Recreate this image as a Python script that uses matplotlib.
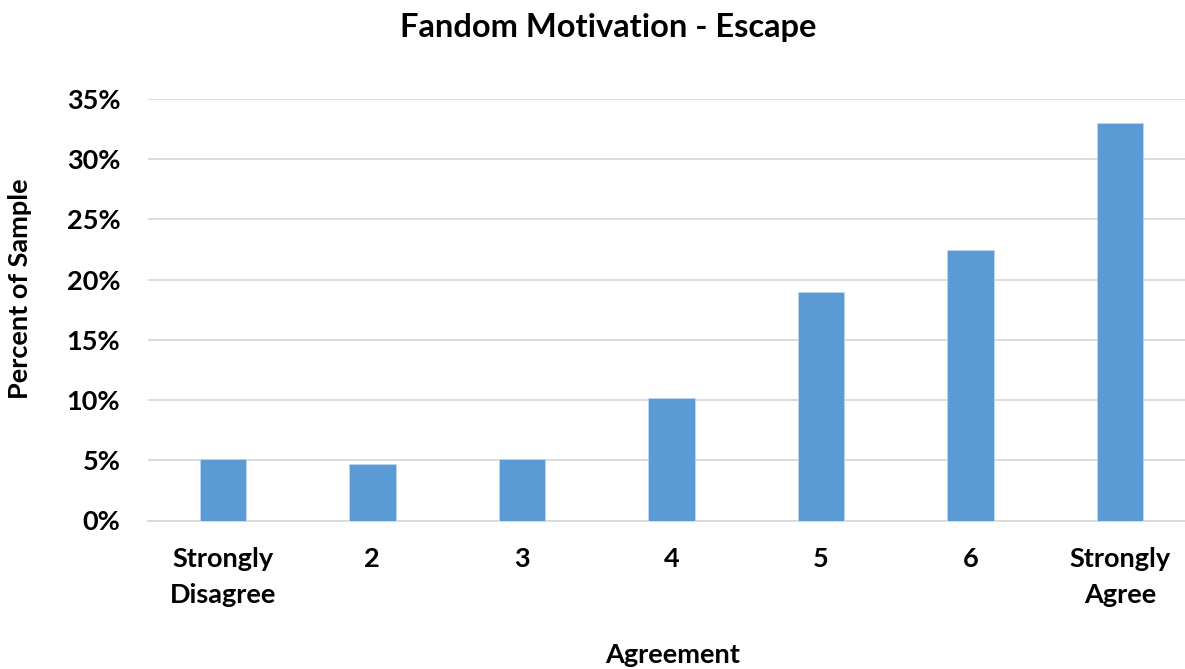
import matplotlib.pyplot as plt
from matplotlib.ticker import PercentFormatter

categories = ['Strongly\nDisagree', '2', '3', '4', '5', '6', 'Strongly\nAgree']
percent = [5.1, 4.7, 5.1, 10.2, 19.0, 22.5, 33.0]
y_ticks = [0, 5, 10, 15, 20, 25, 30, 35]

plt.rcParams['font.family'] = ['Lato', 'DejaVu Sans']
plt.rcParams['font.weight'] = 'bold'

fig = plt.figure(figsize=(11.85, 6.69), dpi=100)
ax = fig.add_axes([148 / 1185, 1 - 520.5 / 669, 1047 / 1185, 421.5 / 669])

x = list(range(len(categories)))
ax.bar(x, percent, width=0.31, color='#5B9BD5', edgecolor='#BDD7EE', linewidth=0.6, zorder=3)

ax.set_xlim(-0.5, 6.5)
ax.set_ylim(0, 35)
ax.set_yticks(y_ticks)
ax.yaxis.set_major_formatter(PercentFormatter(decimals=0))
ax.set_xticks(x)
ax.set_xticklabels(categories, fontsize=19.5, fontweight='bold', linespacing=1.6)
ax.tick_params(axis='y', labelsize=19.5, length=0, pad=20)
ax.tick_params(axis='x', length=0, pad=19)
for lbl in ax.get_yticklabels():
    lbl.set_fontweight('bold')

ax.grid(axis='y', color='#D9D9D9', linewidth=1.3, zorder=0)
for side in ['top', 'right', 'left']:
    ax.spines[side].set_visible(False)
ax.spines['bottom'].set_color('#D9D9D9')
ax.spines['bottom'].set_linewidth(1.3)

fig.text(608 / 1185, 1 - 28 / 669, 'Fandom Motivation - Escape', ha='center', va='center',
         fontsize=23.5, fontweight='bold')
fig.text(673 / 1185, 1 - 655 / 669, 'Agreement', ha='center', va='center',
         fontsize=19.5, fontweight='bold')
fig.text(20 / 1185, 1 - 289 / 669, 'Percent of Sample', ha='center', va='center',
         rotation=90, fontsize=19.5, fontweight='bold')

fig.savefig('out.png', dpi=100)
